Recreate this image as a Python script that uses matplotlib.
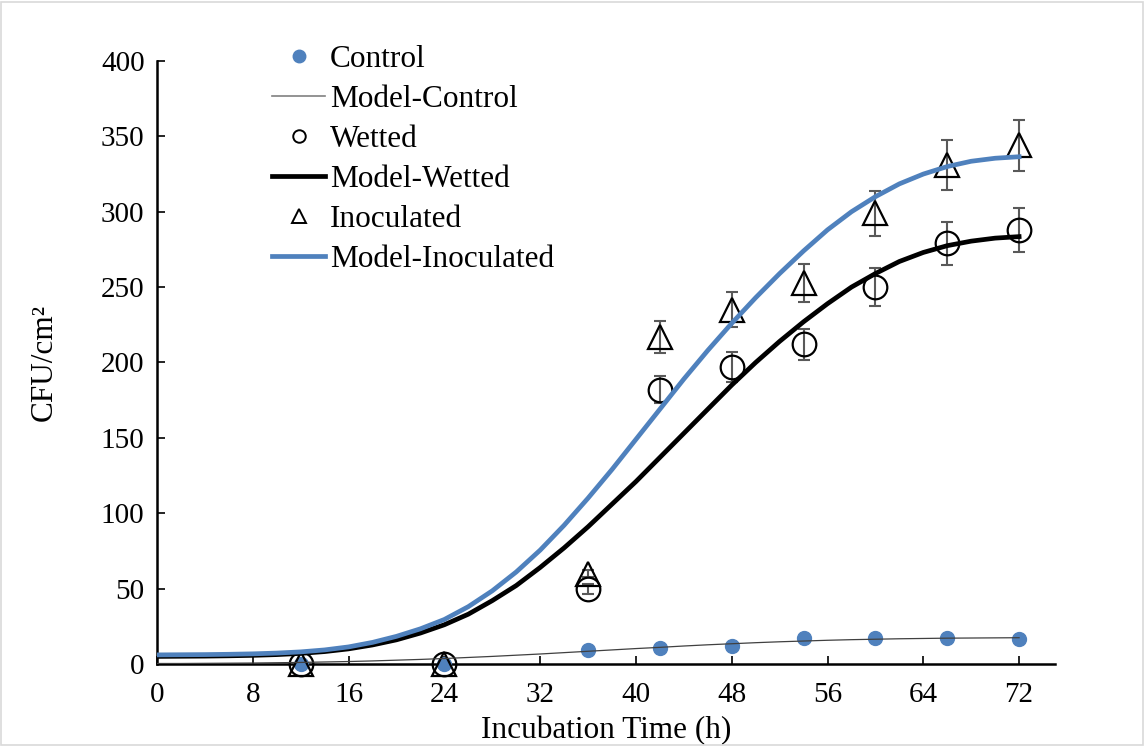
import matplotlib
matplotlib.use("Agg")
import matplotlib.pyplot as plt
from matplotlib.lines import Line2D
from matplotlib.patches import Rectangle

plt.rcParams['font.family'] = ['Liberation Serif', 'DejaVu Serif']

# measured data (h, CFU/cm2)
hours = [12, 24, 36, 42, 48, 54, 60, 66, 72]
control = [0, 0, 9.5, 10.5, 12, 17, 17, 17, 16.5]
wetted = [0, 0, 50, 182, 197, 212, 250, 279, 288]
wetted_err = [0, 0, 3.3, 9, 9.7, 10.3, 12.6, 14, 14.4]
inoculated = [0, 0, 60, 217, 235, 253, 299, 331, 344]
inoculated_err = [0, 0, 2, 10.8, 11.6, 12.6, 15, 16.6, 17]

# model curves every 2 h
model_hours = list(range(0, 73, 2))
model_control = [0.3, 0.3, 0.4, 0.5, 0.6, 0.8, 1.0, 1.3, 1.6, 2.0, 2.5, 3.0, 3.6,
                 4.3, 5.0, 5.8, 6.6, 7.5, 8.4, 9.3, 10.2, 11.0, 11.9, 12.7, 13.4,
                 14.1, 14.7, 15.2, 15.7, 16.1, 16.4, 16.7, 16.9, 17.1, 17.2, 17.3, 17.4]
model_wetted = [5.0, 5.1, 5.2, 5.4, 5.7, 6.2, 7.0, 8.2, 10.0, 12.6, 16.0, 20.5, 26,
                33, 42, 52, 64, 77, 91, 106, 121, 137, 153, 169, 185,
                200, 214, 227, 239, 250, 259, 267, 273, 277.5, 280.5, 282.5, 283.5]
model_inoculated = [6.0, 6.1, 6.2, 6.4, 6.7, 7.2, 8.0, 9.3, 11.3, 14.3, 18.3, 23.3, 29.5,
                    38, 48.5, 61, 75.5, 92, 110, 129, 149, 169, 189, 208, 226,
                    243, 259, 274, 288, 300, 310, 318.5, 325, 330, 333.5, 335.5, 336.5]

blue = '#4F81BD'
err_col = '#595959'

fig = plt.figure(figsize=(11.46, 7.46), dpi=100)
ax = fig.add_axes([0.137, 0.11, 0.7836, 0.8082])

# data points with error bars (markers at 0 hang below the axis, so no clipping)
ax.errorbar(hours, wetted, yerr=wetted_err, fmt='none', ecolor=err_col,
            elinewidth=1.5, capsize=4.5, capthick=1.5, zorder=2)
ax.errorbar(hours, inoculated, yerr=inoculated_err, fmt='none', ecolor=err_col,
            elinewidth=1.5, capsize=4.5, capthick=1.5, zorder=2)
ax.plot(hours, control, 'o', color=blue, ms=10, zorder=3, clip_on=False)
ax.plot(hours, wetted, 'o', mfc='none', mec='black', mew=1.6, ms=17, zorder=3, clip_on=False)
ax.plot(hours, inoculated, '^', mfc='none', mec='black', mew=1.6, ms=17, zorder=3, clip_on=False)

# model lines
ax.plot(model_hours, model_control, color='#404040', lw=0.9, zorder=4)
ax.plot(model_hours, model_wetted, color='black', lw=3.4, zorder=4)
ax.plot(model_hours, model_inoculated, color=blue, lw=3.4, zorder=5)

ax.set_xlim(0, 75)
ax.set_ylim(0, 400)
ax.set_xticks(range(0, 73, 8))
ax.set_yticks(range(0, 401, 50))
for s in ['top', 'right']:
    ax.spines[s].set_visible(False)
for s in ['left', 'bottom']:
    ax.spines[s].set_linewidth(1.8)
ax.tick_params(axis='both', direction='in', length=6, width=1.2, labelsize=21)
ax.tick_params(axis='x', pad=13)
ax.tick_params(axis='y', pad=9)
ax.set_xlabel('Incubation Time (h)', fontsize=22.5, labelpad=6)
ax.set_ylabel('CFU/cm²', fontsize=22.5, labelpad=30)

handles = [
    Line2D([], [], ls='none', marker='o', color=blue, ms=9),
    Line2D([], [], color='#808080', lw=1.2),
    Line2D([], [], ls='none', marker='o', mfc='none', mec='black', mew=1.4, ms=9),
    Line2D([], [], color='black', lw=3.4),
    Line2D([], [], ls='none', marker='^', mfc='none', mec='black', mew=1.4, ms=10.5),
    Line2D([], [], color=blue, lw=3.4),
]
labels = ['Control', 'Model-Control', 'Wetted', 'Model-Wetted', 'Inoculated', 'Model-Inoculated']
ax.legend(handles, labels, loc='upper left', bbox_to_anchor=(0.128, 1.026),
          frameon=False, fontsize=22.5, handlelength=1.7, handletextpad=0.15,
          labelspacing=0.35, borderpad=0, borderaxespad=0)

fig.patches.append(Rectangle((0.001, 0.002), 0.996, 0.995, transform=fig.transFigure,
                             fill=False, edgecolor='#d9d9d9', lw=1.2))

fig.savefig('out.png', dpi=100)
